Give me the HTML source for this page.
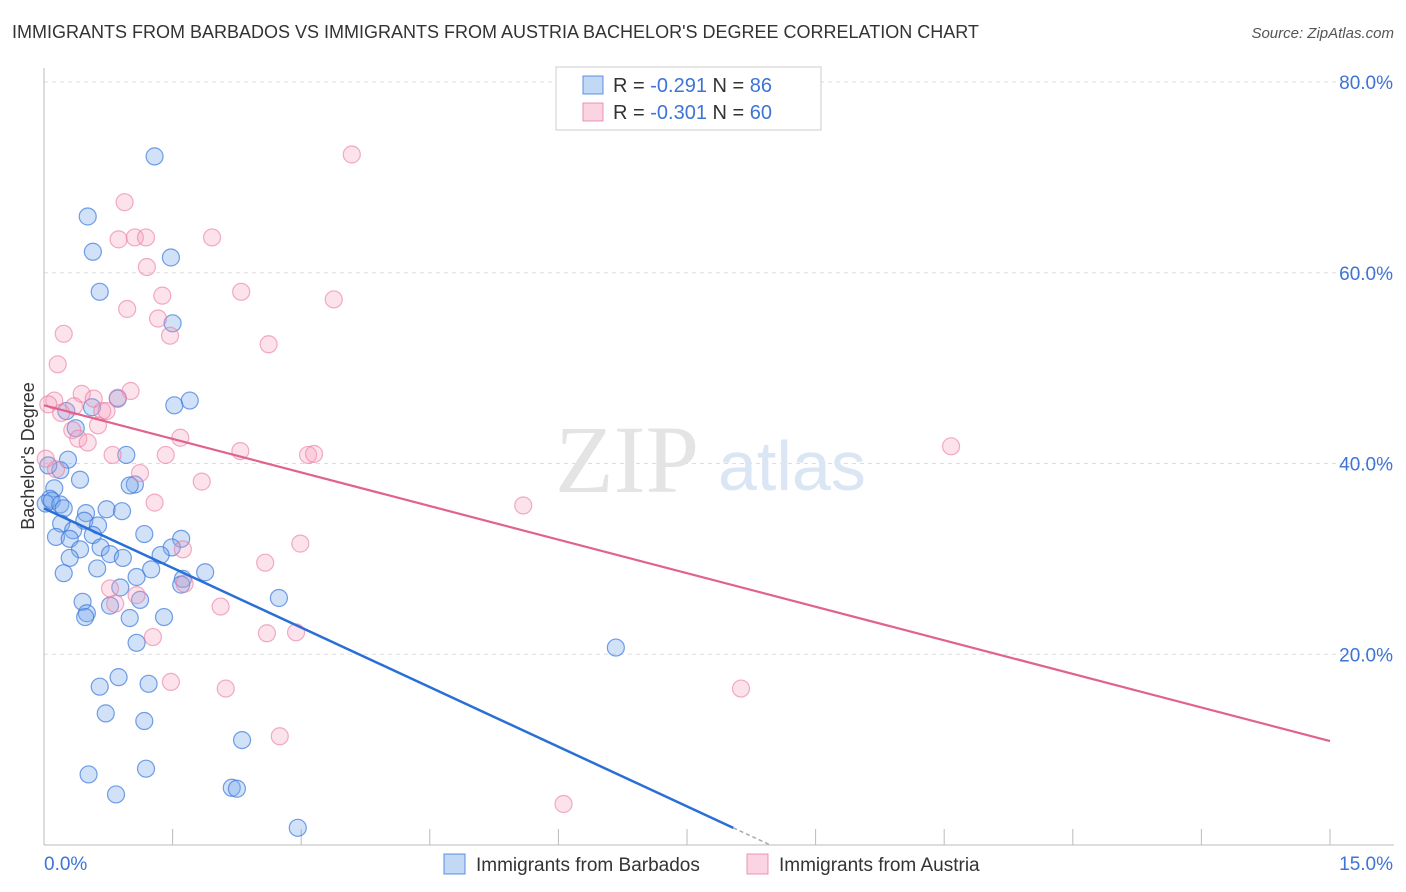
<!DOCTYPE html>
<html><head><meta charset="utf-8">
<style>
body{margin:0;background:#fff;font-family:"Liberation Sans",sans-serif;}
#wrap{position:relative;width:1406px;height:892px;overflow:hidden;}
.t{position:absolute;white-space:nowrap;}
</style></head>
<body>
<div id="wrap">
<div class="t" style="left:12px;top:22px;font-size:18px;color:#333;">IMMIGRANTS FROM BARBADOS VS IMMIGRANTS FROM AUSTRIA BACHELOR'S DEGREE CORRELATION CHART</div>
<div class="t" style="right:12px;top:25px;font-size:15px;color:#555;font-style:italic;">Source: ZipAtlas.com</div>
<svg id="chart" width="1406" height="892" style="position:absolute;left:0;top:0;"></svg>
</div>
<script>
const xTickLabels=["0.0%","15.0%"];
const yTicks=[20,40,60,80];
const yTickLabels=["20.0%","40.0%","60.0%","80.0%"];
const blueX=[1.29,0.51,0.57,1.48,0.65,1.50,1.70,1.52,0.86,0.26,0.56,0.37,0.96,0.28,0.42,0.19,0.05,0.12,0.07,0.02,0.09,0.19,0.23,0.73,0.91,0.49,0.47,0.20,0.63,0.34,0.57,0.14,0.30,1.17,1.60,0.66,1.49,0.42,0.77,0.92,1.36,0.30,1.88,0.23,0.62,1.25,1.08,1.62,1.60,0.89,1.12,0.45,0.77,0.50,0.48,1.00,1.40,1.08,6.67,2.74,0.87,0.65,1.22,0.72,1.17,2.31,0.52,1.19,2.19,2.25,0.84,2.96,1.06,1.00];
const blueY=[72.2,65.9,62.2,61.6,58.0,54.7,46.6,46.1,46.8,45.5,45.9,43.7,40.9,40.4,38.3,39.3,39.8,37.4,36.3,35.8,36.1,35.7,35.3,35.2,35.0,34.8,34.0,33.7,33.5,33.0,32.5,32.3,32.1,32.6,32.1,31.2,31.2,31.0,30.5,30.1,30.4,30.1,28.6,28.5,29.0,28.9,28.1,27.9,27.3,27.0,25.7,25.5,25.1,24.3,23.9,23.8,23.9,21.2,20.7,25.9,17.6,16.6,16.9,13.8,13.0,11.0,7.4,8.0,6.0,5.9,5.3,1.8,37.8,37.7];
const pinkX=[3.59,0.94,0.87,1.06,1.19,1.96,1.20,2.30,1.38,3.38,0.97,1.33,0.23,1.47,2.62,0.16,1.01,0.44,0.12,0.05,0.58,0.86,0.35,0.68,0.73,0.20,0.63,0.33,1.59,0.40,0.51,0.80,1.42,2.29,3.08,3.15,10.58,0.14,1.12,1.84,1.29,5.59,2.99,1.62,2.58,1.64,0.77,1.08,0.83,2.06,2.60,2.94,1.27,1.48,2.12,8.13,2.75,6.06,0.02];
const pinkY=[72.4,67.4,63.5,63.7,63.7,63.7,60.6,58.0,57.6,57.2,56.2,55.2,53.6,53.4,52.5,50.4,47.6,47.3,46.6,46.2,46.8,46.9,46.0,45.5,45.5,45.3,44.0,43.5,42.7,42.6,42.2,40.9,40.9,41.3,40.9,41.0,41.8,39.4,39.0,38.1,35.9,35.6,31.6,31.0,29.6,27.4,26.9,26.2,25.3,25.0,22.2,22.3,21.8,17.1,16.4,16.4,11.4,4.3,40.5];
const blueTrend=[35.3,1.8,8.04,8.46]; // y at x=0, y at solid end, solid end x, dashed end x
const pinkTrend=[46.1,10.9];

const NS="http://www.w3.org/2000/svg";
const svg=document.getElementById('chart');
const X0=44,X1=1330,Y0=845,Y80=82;
const sx=v=>X0+(v/15)*(X1-X0);
const sy=v=>Y0-(v/80)*(Y0-Y80);
function mk(tag,attrs,parent){const e=document.createElementNS(NS,tag);for(const k in attrs)e.setAttribute(k,attrs[k]);(parent||svg).appendChild(e);return e;}

// gridlines & y labels
yTicks.forEach((v,i)=>{
  const g=mk('line',{x1:X0,x2:1394,y1:sy(v),y2:sy(v),stroke:'#ddd','stroke-dasharray':'4,4'});
  
  
  const t=mk('text',{x:1393,y:sy(v)+7,'text-anchor':'end','font-size':19,fill:'#3d74d6'});
  t.textContent=yTickLabels[i];
  
  
});
// axes
const ya=mk('line',{x1:X0,x2:X0,y1:68,y2:Y0,stroke:'#bbb'});


const xa=mk('line',{x1:X0,x2:1394,y1:Y0,y2:Y0,stroke:'#bbb'});


for(let i=0;i<=10;i++){
  const tk=mk('line',{x1:sx(i*1.5),x2:sx(i*1.5),y1:Y0,y2:Y0-16,stroke:'#bbb'});
  
  
}
const xl0=mk('text',{x:44,y:870,'font-size':19,fill:'#3d74d6'});xl0.textContent=xTickLabels[0];


const xl1=mk('text',{x:1393,y:870,'text-anchor':'end','font-size':19,fill:'#3d74d6'});xl1.textContent=xTickLabels[1];


const yt=mk('text',{x:34,y:456,'text-anchor':'middle','font-size':18,fill:'#333',transform:'rotate(-90 34 456)'});yt.textContent="Bachelor's Degree";


// watermark
const wm=mk('text',{x:555,y:492,'font-size':96,fill:'#e4e4e4','font-family':'Liberation Serif'});wm.textContent='ZIP';


const wm2=mk('text',{x:718,y:490,'font-size':70,fill:'#dbe6f5'});wm2.textContent='atlas';



// points
blueX.forEach((x,i)=>{
  const c=mk('circle',{cx:sx(x),cy:sy(blueY[i]),r:8.5,fill:'rgba(120,170,235,0.35)',stroke:'rgba(60,120,220,0.7)','stroke-width':1.2});
  
  
});
pinkX.forEach((x,i)=>{
  const c=mk('circle',{cx:sx(x),cy:sy(pinkY[i]),r:8.5,fill:'rgba(245,160,190,0.3)',stroke:'rgba(235,120,160,0.6)','stroke-width':1.2});
  
  
});
// trends
const bSlope=(blueTrend[1]-blueTrend[0])/blueTrend[2];
const bl=mk('line',{x1:sx(0),y1:sy(blueTrend[0]),x2:sx(blueTrend[2]),y2:sy(blueTrend[1]),stroke:'#2a6fd6','stroke-width':2.5});


const bd=mk('line',{x1:sx(blueTrend[2]),y1:sy(blueTrend[1]),x2:sx(blueTrend[3]),y2:sy(blueTrend[0]+bSlope*blueTrend[3]),stroke:'#aaa','stroke-width':1.5,'stroke-dasharray':'4,3'});


const pl=mk('line',{x1:sx(0),y1:sy(pinkTrend[0]),x2:sx(15),y2:sy(pinkTrend[1]),stroke:'#e0628f','stroke-width':2.2});



// top legend
const lg=mk('rect',{x:556,y:67,width:265,height:63,fill:'#fff',stroke:'#ccc'});


[[0,'rgba(120,170,235,0.45)','rgba(60,120,220,0.8)','-0.291','86'],[1,'rgba(245,160,190,0.45)','rgba(235,120,160,0.8)','-0.301','60']].forEach(r=>{
  const y=76+r[0]*27;
  const sw=mk('rect',{x:583,y:y,width:20,height:18,fill:r[1],stroke:r[2]});
  
  
  const t=mk('text',{x:613,y:y+16,'font-size':20,fill:'#333'});
  t.innerHTML='R = <tspan fill="#3d74d6">'+r[3]+'</tspan>   N = <tspan fill="#3d74d6">'+r[4]+'</tspan>';
  t.setAttribute('xml:space','preserve');
  
  
});
// bottom legend
[[444,'rgba(120,170,235,0.45)','rgba(60,120,220,0.8)','Immigrants from Barbados'],[747,'rgba(245,160,190,0.45)','rgba(235,120,160,0.8)','Immigrants from Austria']].forEach(r=>{
  const sw=mk('rect',{x:r[0],y:854,width:21,height:20,fill:r[1],stroke:r[2]});
  
  
  const t=mk('text',{x:r[0]+32,y:871,'font-size':19,fill:'#333'});t.textContent=r[3];
  
  
});
</script>
</body></html>
